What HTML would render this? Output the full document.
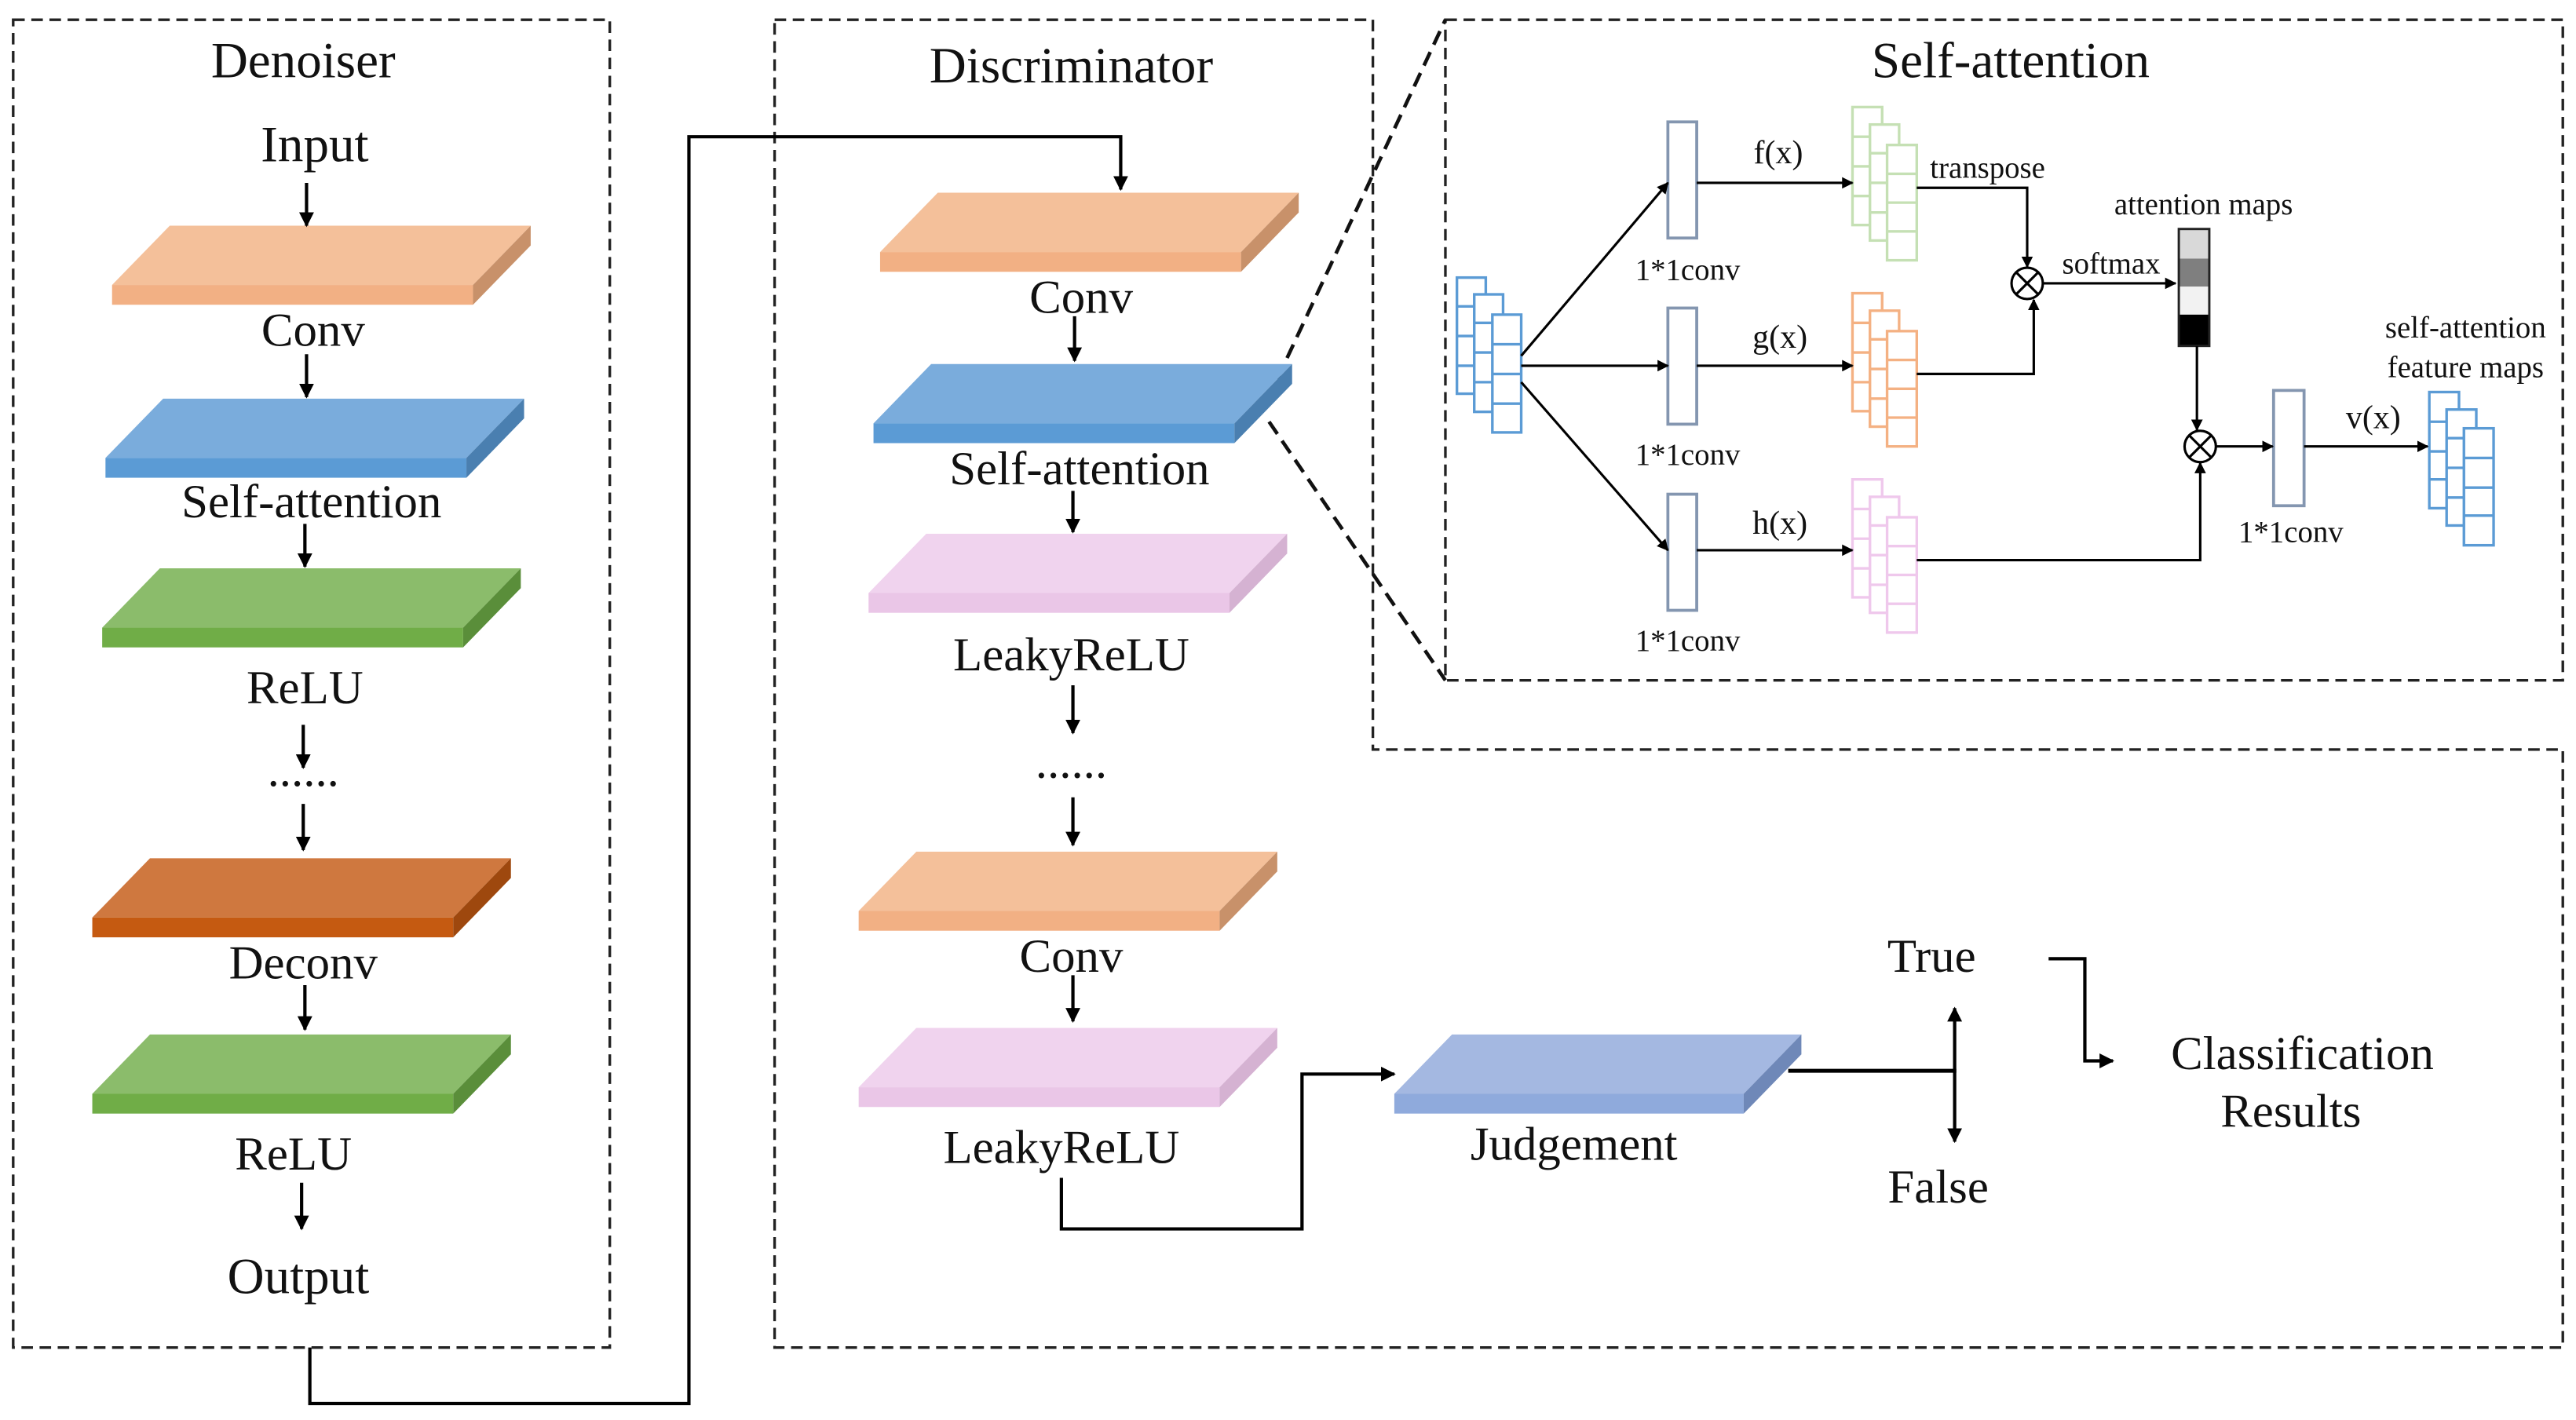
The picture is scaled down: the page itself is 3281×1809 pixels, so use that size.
<!DOCTYPE html>
<html><head><meta charset="utf-8"><style>
html,body{margin:0;padding:0;background:#fff;}
svg{display:block;}
text{font-family:"Liberation Serif","Times New Roman",serif;fill:#111;}
</style></head><body>
<svg width="3281" height="1809" viewBox="0 0 1563 862" preserveAspectRatio="none" xmlns="http://www.w3.org/2000/svg" font-family="Liberation Serif, serif">
<defs>
<marker id="a" viewBox="0 0 10 10" refX="9" refY="5" markerWidth="9" markerHeight="9" markerUnits="userSpaceOnUse" orient="auto"><path d="M0,0 L10,5 L0,10 z" fill="#000"/></marker>
<marker id="s" viewBox="0 0 10 10" refX="9" refY="5" markerWidth="7" markerHeight="7" markerUnits="userSpaceOnUse" orient="auto"><path d="M0,0 L10,5 L0,10 z" fill="#000"/></marker>
</defs>

<g fill="none" stroke="#222" stroke-width="1.6" stroke-dasharray="7,4">
<rect x="8" y="12" width="362" height="806"/>
<path d="M470,12 H833 V455 H1555 V818 H470 Z"/>
<rect x="877" y="12" width="678" height="401"/>
</g>
<path d="M775,230 L877,12 M770,256 L877,413" fill="none" stroke="#111" stroke-width="2.2" stroke-dasharray="9,5"/>

<g transform="translate(68,137)"><polygon points="35,0 254,0 219,36 0,36" fill="#f4c09a"/><rect x="0" y="36" width="219" height="12" fill="#f2b084"/><polygon points="219,36 254,0 254,12 219,48" fill="#c8916a"/></g>
<g transform="translate(64,242)"><polygon points="35,0 254,0 219,36 0,36" fill="#7aacdc"/><rect x="0" y="36" width="219" height="12" fill="#5b9bd5"/><polygon points="219,36 254,0 254,12 219,48" fill="#4a7fb0"/></g>
<g transform="translate(62,345)"><polygon points="35,0 254,0 219,36 0,36" fill="#8bbc6b"/><rect x="0" y="36" width="219" height="12" fill="#70ad47"/><polygon points="219,36 254,0 254,12 219,48" fill="#5a8e3a"/></g>
<g transform="translate(56,521)"><polygon points="35,0 254,0 219,36 0,36" fill="#cf783f"/><rect x="0" y="36" width="219" height="12" fill="#c55a11"/><polygon points="219,36 254,0 254,12 219,48" fill="#9e480e"/></g>
<g transform="translate(56,628)"><polygon points="35,0 254,0 219,36 0,36" fill="#8bbc6b"/><rect x="0" y="36" width="219" height="12" fill="#70ad47"/><polygon points="219,36 254,0 254,12 219,48" fill="#5a8e3a"/></g>
<g transform="translate(534,117)"><polygon points="35,0 254,0 219,36 0,36" fill="#f4c09a"/><rect x="0" y="36" width="219" height="12" fill="#f2b084"/><polygon points="219,36 254,0 254,12 219,48" fill="#c8916a"/></g>
<g transform="translate(530,221)"><polygon points="35,0 254,0 219,36 0,36" fill="#7aacdc"/><rect x="0" y="36" width="219" height="12" fill="#5b9bd5"/><polygon points="219,36 254,0 254,12 219,48" fill="#4a7fb0"/></g>
<g transform="translate(527,324)"><polygon points="35,0 254,0 219,36 0,36" fill="#f0d3ee"/><rect x="0" y="36" width="219" height="12" fill="#eac6e7"/><polygon points="219,36 254,0 254,12 219,48" fill="#d5b2d2"/></g>
<g transform="translate(521,517)"><polygon points="35,0 254,0 219,36 0,36" fill="#f4c09a"/><rect x="0" y="36" width="219" height="12" fill="#f2b084"/><polygon points="219,36 254,0 254,12 219,48" fill="#c8916a"/></g>
<g transform="translate(521,624)"><polygon points="35,0 254,0 219,36 0,36" fill="#f0d3ee"/><rect x="0" y="36" width="219" height="12" fill="#eac6e7"/><polygon points="219,36 254,0 254,12 219,48" fill="#d5b2d2"/></g>
<g transform="translate(846,628)"><polygon points="35,0 247,0 212,36 0,36" fill="#a4b8e1"/><rect x="0" y="36" width="212" height="12" fill="#8faadc"/><polygon points="212,36 247,0 247,12 212,48" fill="#6f88b8"/></g>

<g stroke="#000" stroke-width="2" fill="none" marker-end="url(#a)">
<line x1="186" y1="111" x2="186" y2="137"/>
<line x1="186" y1="215" x2="186" y2="241"/>
<line x1="185" y1="318" x2="185" y2="344"/>
<line x1="184" y1="440" x2="184" y2="466"/>
<line x1="184" y1="488" x2="184" y2="516"/>
<line x1="185" y1="598" x2="185" y2="625"/>
<line x1="183" y1="718" x2="183" y2="746"/>
<line x1="652" y1="192" x2="652" y2="219"/>
<line x1="651" y1="298" x2="651" y2="323"/>
<line x1="651" y1="416" x2="651" y2="445"/>
<line x1="651" y1="484" x2="651" y2="513"/>
<line x1="651" y1="592" x2="651" y2="620"/>
<path d="M188,818 V852 H418 V83 H680 V115"/>
<path d="M644,715 V746 H790 V652 H846"/>
<line x1="1186" y1="650" x2="1186" y2="612"/>
<line x1="1186" y1="650" x2="1186" y2="693"/>
<path d="M1243,582 H1265 V644 H1282"/>
</g>
<line x1="1085" y1="650" x2="1187" y2="650" stroke="#000" stroke-width="2.4"/>

<g font-size="29" text-anchor="middle">
<text x="184" y="47" font-size="31">Denoiser</text>
<text x="191" y="98" font-size="31">Input</text>
<text x="190" y="210">Conv</text>
<text x="189" y="314">Self-attention</text>
<text x="185" y="427">ReLU</text>
<text x="184" y="477">......</text>
<text x="184" y="594">Deconv</text>
<text x="178" y="710">ReLU</text>
<text x="181" y="785" font-size="31">Output</text>
<text x="650" y="50" font-size="31">Discriminator</text>
<text x="656" y="190">Conv</text>
<text x="655" y="294">Self-attention</text>
<text x="650" y="407">LeakyReLU</text>
<text x="650" y="472">......</text>
<text x="650" y="590">Conv</text>
<text x="644" y="706">LeakyReLU</text>
<text x="955" y="704">Judgement</text>
<text x="1172" y="590">True</text>
<text x="1176" y="730">False</text>
<text x="1397" y="649">Classification</text>
<text x="1390" y="684">Results</text>
<text x="1220" y="47" font-size="31">Self-attention</text>
</g>

<g fill="none" stroke-width="1.6">
<g stroke="#5b9bd5">
<rect x="884" y="168.5" width="17.5" height="70.5"/><line x1="884" y1="186" x2="901.5" y2="186"/><line x1="884" y1="204" x2="901.5" y2="204"/><line x1="884" y1="222" x2="901.5" y2="222"/>
<rect x="894.5" y="178.7" width="17.5" height="71.3" fill="#fff"/><line x1="894.5" y1="196" x2="912" y2="196"/><line x1="894.5" y1="214" x2="912" y2="214"/><line x1="894.5" y1="232" x2="912" y2="232"/>
<rect x="905.5" y="191" width="17.5" height="71.5" fill="#fff"/><line x1="905.5" y1="209" x2="923" y2="209"/><line x1="905.5" y1="227" x2="923" y2="227"/><line x1="905.5" y1="245" x2="923" y2="245"/>
</g>
<g stroke="#5b9bd5">
<rect x="1474" y="238" width="18" height="70.5"/><line x1="1474" y1="256" x2="1492" y2="256"/><line x1="1474" y1="274" x2="1492" y2="274"/><line x1="1474" y1="291" x2="1492" y2="291"/>
<rect x="1484.5" y="248.6" width="18" height="70.4" fill="#fff"/><line x1="1484.5" y1="266" x2="1502.5" y2="266"/><line x1="1484.5" y1="284" x2="1502.5" y2="284"/><line x1="1484.5" y1="302" x2="1502.5" y2="302"/>
<rect x="1495" y="260" width="18" height="71" fill="#fff"/><line x1="1495" y1="278" x2="1513" y2="278"/><line x1="1495" y1="296" x2="1513" y2="296"/><line x1="1495" y1="313" x2="1513" y2="313"/>
</g>
<g stroke="#c5e0b4">
<rect x="1124" y="65" width="18" height="71.6"/><line x1="1124" y1="83" x2="1142" y2="83"/><line x1="1124" y1="101" x2="1142" y2="101"/><line x1="1124" y1="119" x2="1142" y2="119"/>
<rect x="1134.6" y="75.6" width="17.7" height="70.4" fill="#fff"/><line x1="1134.6" y1="93" x2="1152.3" y2="93"/><line x1="1134.6" y1="111" x2="1152.3" y2="111"/><line x1="1134.6" y1="129" x2="1152.3" y2="129"/>
<rect x="1145" y="88" width="18" height="70" fill="#fff"/><line x1="1145" y1="105.5" x2="1163" y2="105.5"/><line x1="1145" y1="123" x2="1163" y2="123"/><line x1="1145" y1="140.5" x2="1163" y2="140.5"/>
</g>
<g stroke="#f4b183" transform="translate(0,113)">
<rect x="1124" y="65" width="18" height="71.6"/><line x1="1124" y1="83" x2="1142" y2="83"/><line x1="1124" y1="101" x2="1142" y2="101"/><line x1="1124" y1="119" x2="1142" y2="119"/>
<rect x="1134.6" y="75.6" width="17.7" height="70.4" fill="#fff"/><line x1="1134.6" y1="93" x2="1152.3" y2="93"/><line x1="1134.6" y1="111" x2="1152.3" y2="111"/><line x1="1134.6" y1="129" x2="1152.3" y2="129"/>
<rect x="1145" y="88" width="18" height="70" fill="#fff"/><line x1="1145" y1="105.5" x2="1163" y2="105.5"/><line x1="1145" y1="123" x2="1163" y2="123"/><line x1="1145" y1="140.5" x2="1163" y2="140.5"/>
</g>
<g stroke="#efc8ec" transform="translate(0,226)">
<rect x="1124" y="65" width="18" height="71.6"/><line x1="1124" y1="83" x2="1142" y2="83"/><line x1="1124" y1="101" x2="1142" y2="101"/><line x1="1124" y1="119" x2="1142" y2="119"/>
<rect x="1134.6" y="75.6" width="17.7" height="70.4" fill="#fff"/><line x1="1134.6" y1="93" x2="1152.3" y2="93"/><line x1="1134.6" y1="111" x2="1152.3" y2="111"/><line x1="1134.6" y1="129" x2="1152.3" y2="129"/>
<rect x="1145" y="88" width="18" height="70" fill="#fff"/><line x1="1145" y1="105.5" x2="1163" y2="105.5"/><line x1="1145" y1="123" x2="1163" y2="123"/><line x1="1145" y1="140.5" x2="1163" y2="140.5"/>
</g>
<g stroke="#8496b0" stroke-width="1.8">
<rect x="1012" y="74" width="17.5" height="70.5"/>
<rect x="1012" y="187" width="17.5" height="70.5"/>
<rect x="1012" y="300" width="17.5" height="70.5"/>
<rect x="1379.5" y="237" width="18.5" height="70"/>
</g>
<rect x="1322" y="139" width="18.5" height="18" fill="#d9d9d9" stroke="none"/>
<rect x="1322" y="157" width="18.5" height="17" fill="#7f7f7f" stroke="none"/>
<rect x="1322" y="174" width="18.5" height="17" fill="#f2f2f2" stroke="none"/>
<rect x="1322" y="191" width="18.5" height="19" fill="#000" stroke="none"/>
<rect x="1322" y="139" width="18.5" height="71" stroke="#222" stroke-width="1.4"/>
<g stroke="#000" stroke-width="1.5">
<circle cx="1230" cy="172" r="9.5" fill="#fff"/><path d="M1223.3,165.3 L1236.7,178.7 M1236.7,165.3 L1223.3,178.7"/>
<circle cx="1335" cy="271" r="9.5" fill="#fff"/><path d="M1328.3,264.3 L1341.7,277.7 M1341.7,264.3 L1328.3,277.7"/>
</g>
<g stroke="#000" stroke-width="1.5" marker-end="url(#s)">
<line x1="923" y1="216" x2="1012" y2="111"/>
<line x1="923" y1="222" x2="1012" y2="222"/>
<line x1="923" y1="232" x2="1012" y2="334"/>
<line x1="1029.5" y1="111" x2="1124" y2="111"/>
<line x1="1029.5" y1="222" x2="1124" y2="222"/>
<line x1="1029.5" y1="334" x2="1124" y2="334"/>
<path d="M1163,114 H1230 V162"/>
<path d="M1163,227 H1234 V182"/>
<line x1="1240" y1="172" x2="1320" y2="172"/>
<path d="M1333,210 V261"/>
<path d="M1163,340 H1335 V281"/>
<line x1="1345" y1="271" x2="1379" y2="271"/>
<line x1="1398" y1="271" x2="1473" y2="271"/>
</g>
</g>
<g font-size="18.5" text-anchor="middle">
<text x="1024" y="170">1*1conv</text>
<text x="1024" y="282">1*1conv</text>
<text x="1024" y="395">1*1conv</text>
<text x="1390" y="329">1*1conv</text>
<text x="1079" y="99" font-size="20">f(x)</text>
<text x="1080" y="211" font-size="20">g(x)</text>
<text x="1080" y="324" font-size="20">h(x)</text>
<text x="1440" y="260" font-size="20">v(x)</text>
<text x="1206" y="108">transpose</text>
<text x="1281" y="166">softmax</text>
<text x="1337" y="130">attention maps</text>
<text x="1496" y="205">self-attention</text>
<text x="1496" y="229">feature maps</text>
</g>
</svg>
</body></html>
